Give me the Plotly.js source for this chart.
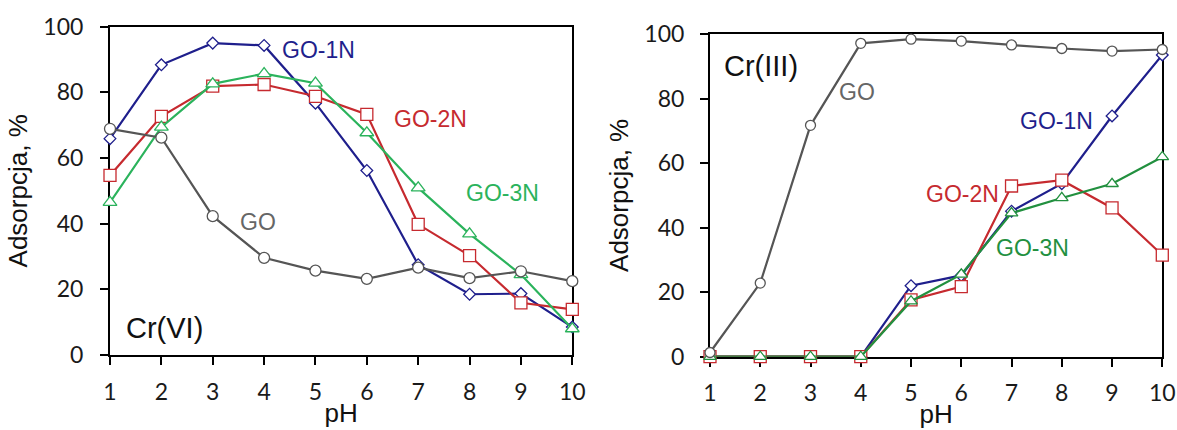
<!DOCTYPE html>
<html>
<head>
<meta charset="utf-8">
<script src="https://cdn.plot.ly/plotly-3.0.1.min.js"></script>
<style>html,body{margin:0;padding:0;background:#fff;}#chart{width:1177px;height:430px;}</style>
</head>
<body>
<div id="chart"></div>
<script>
// pH values (shared x)
const pH = [1, 2, 3, 4, 5, 6, 7, 8, 9, 10];
const xTicks = [1, 2, 3, 4, 5, 6, 7, 8, 9, 10];
const yTicks = [0, 20, 40, 60, 80, 100];

// Cr(VI) adsorption, %
const crVI_GO   = [68.9, 66.2, 42.3, 29.6, 25.7, 23.2, 26.6, 23.4, 25.5, 22.5];
const crVI_GO1N = [65.9, 88.4, 95.0, 94.3, 76.7, 56.2, 27.5, 18.5, 18.7, 8.5];
const crVI_GO2N = [54.7, 72.7, 81.9, 82.4, 78.8, 73.3, 39.8, 30.3, 15.9, 13.9];
const crVI_GO3N = [46.5, 69.4, 82.6, 85.7, 82.8, 67.7, 50.9, 36.9, 24.5, 8.0];

// Cr(III) adsorption, %
const crIII_GO   = [1.3, 22.8, 71.7, 97.1, 98.4, 97.8, 96.6, 95.5, 94.7, 95.2];
const crIII_GO1N = [0, 0, 0, 0, 22.0, 25.2, 45.1, 53.6, 74.6, 93.5];
const crIII_GO2N = [0, 0, 0, 0, 17.6, 21.7, 52.9, 54.7, 46.1, 31.5];
const crIII_GO3N = [0, 0, 0, 0, 17.2, 25.5, 44.5, 49.2, 53.6, 61.9];

const C_GO = '#555555', C_1N = '#1f1f8c', C_2N = '#c62a2f', C_3N_L = '#2bb35c', C_3N_R = '#22903f';

function tr(y, xa, ya, color, symbol, size, name) {
  return {
    x: pH, y: y, xaxis: xa, yaxis: ya, type: 'scatter', mode: 'lines+markers', name: name,
    cliponaxis: false,
    line: {color: color, width: 2.2},
    marker: {symbol: symbol, size: size, color: '#ffffff', line: {color: color, width: 1.3}}
  };
}

const data = [
  tr(crVI_GO1N, 'x', 'y', C_1N, 'diamond', 9, 'GO-1N'),
  tr(crVI_GO2N, 'x', 'y', C_2N, 'square', 12, 'GO-2N'),
  tr(crVI_GO3N, 'x', 'y', C_3N_L, 'triangle-up', 12, 'GO-3N'),
  tr(crVI_GO,   'x', 'y', C_GO, 'circle', 11, 'GO'),
  tr(crIII_GO1N, 'x2', 'y2', C_1N, 'diamond', 9, 'GO-1N'),
  tr(crIII_GO2N, 'x2', 'y2', C_2N, 'square', 12, 'GO-2N'),
  tr(crIII_GO3N, 'x2', 'y2', C_3N_R, 'triangle-up', 11, 'GO-3N'),
  tr(crIII_GO,   'x2', 'y2', C_GO, 'circle', 10, 'GO')
];

const tickFont = {family: 'Lato, "Liberation Sans", sans-serif', size: 23, color: '#1a1a1a'};
const titleFont = {family: '"Liberation Sans", Arial, sans-serif', size: 26, color: '#111'};

function xax(domain, anchor) {
  return {
    domain: domain, anchor: anchor, range: [1, 10], tickvals: xTicks, ticktext: xTicks.map(String),
    showgrid: false, zeroline: false, showline: true, linecolor: '#000', linewidth: 2, mirror: true,
    ticks: 'outside', ticklen: 8, tickwidth: 2, tickcolor: '#000', tickfont: tickFont,
    ticklabelstandoff: 7, layer: 'below traces',
    title: {text: 'pH', font: titleFont, standoff: 0}
  };
}
function yax(domain, anchor, labelGap) {
  return {
    domain: domain, anchor: anchor, range: [0, 100], tickvals: yTicks, ticktext: yTicks.map(String),
    showgrid: false, zeroline: false, showline: true, linecolor: '#000', linewidth: 2, mirror: true,
    ticks: 'outside', ticklen: 8, tickwidth: 2, tickcolor: '#000', tickfont: tickFont,
    ticklabelstandoff: labelGap, layer: 'below traces',
    title: {text: 'Adsorpcja, %', font: titleFont, standoff: 8}
  };
}

function ann(text, x, y, xref, yref, color, size) {
  return {text: text, x: x, y: y, xref: xref, yref: yref, showarrow: false,
    font: {family: '"Liberation Sans", Arial, sans-serif', size: size || 23, color: color},
    xanchor: 'center', yanchor: 'middle'};
}

// annotation positions in data coordinates of each panel
const annotations = [
  ann('GO-1N', 5.06, 93.0, 'x', 'y', C_1N),
  ann('GO-2N', 7.23, 71.9, 'x', 'y', C_2N),
  ann('GO-3N', 8.64, 49.2, 'x', 'y', C_3N_L),
  ann('GO', 3.88, 40.4, 'x', 'y', '#666666'),
  ann('Cr(VI)', 2.06, 8.1, 'x', 'y', '#111111', 29),
  ann('Cr(III)', 2.01, 90.0, 'x2', 'y2', '#111111', 29),
  ann('GO', 3.93, 82.0, 'x2', 'y2', '#666666'),
  ann('GO-1N', 7.89, 73.0, 'x2', 'y2', C_1N),
  ann('GO-2N', 6.02, 50.5, 'x2', 'y2', C_2N),
  ann('GO-3N', 7.41, 33.8, 'x2', 'y2', C_3N_R)
];

const layout = {
  width: 1177, height: 430,
  margin: {l: 0, r: 0, t: 0, b: 0},
  paper_bgcolor: '#ffffff', plot_bgcolor: '#ffffff',
  showlegend: false,
  xaxis: xax([110/1177, 572.3/1177], 'y'),
  yaxis: yax([1 - 355/430, 1 - 26.7/430], 'x', 12),
  xaxis2: xax([710/1177, 1162.3/1177], 'y2'),
  yaxis2: yax([1 - 356.7/430, 1 - 34/430], 'x2', 11),
  annotations: annotations
};

Plotly.newPlot('chart', data, layout, {displayModeBar: false, staticPlot: true});
</script>
</body>
</html>
